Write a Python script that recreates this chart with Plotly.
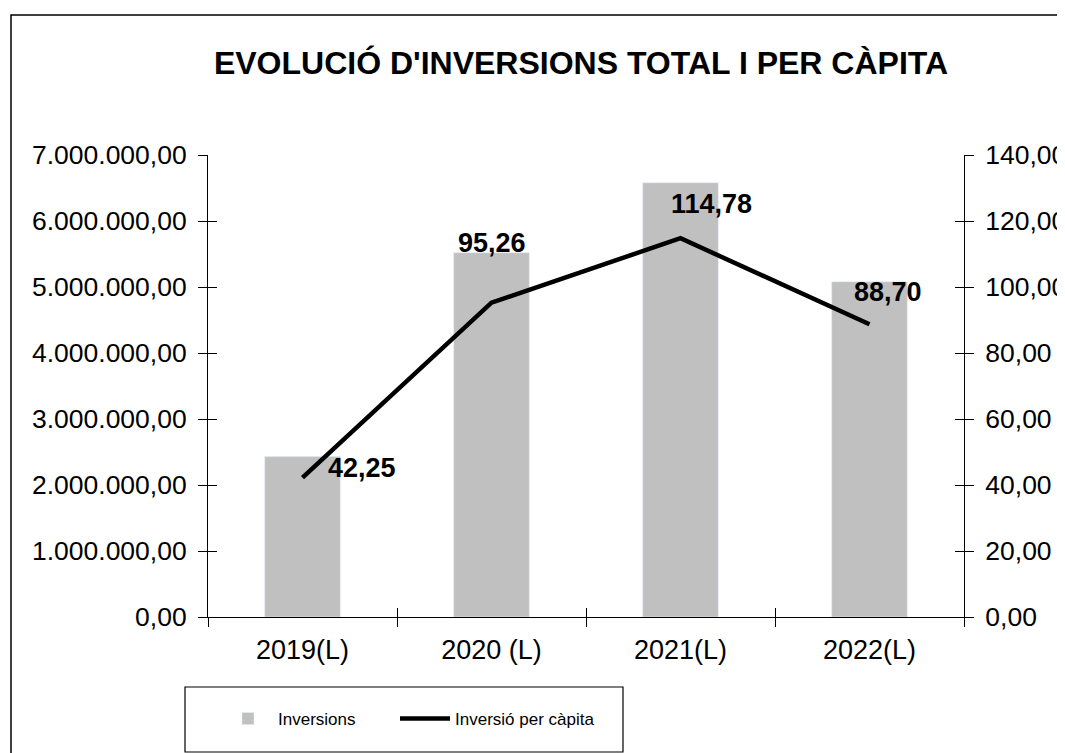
"""Evolució d'inversions total i per càpita."""

import plotly.graph_objects as go

YEARS = ["2019(L)", "2020 (L)", "2021(L)", "2022(L)"]
INVERSIONS = [2430000, 5520000, 6580000, 5080000]
PER_CAPITA = [42.25, 95.26, 114.78, 88.70]

TITLE = "EVOLUCIÓ D'INVERSIONS TOTAL I PER CÀPITA"
FONT = "Liberation Sans, Arial, sans-serif"
BAR_GREY = "#c0c0c0"

# desplaçament de cada etiqueta respecte al punt (px)
LABEL_SHIFTS = [(59, 10), (0, 60), (31, 34), (18, 32)]

# la pàgina té 8 px de marge al body: tot es mesura en px de pantalla
OFF = 8
W, H = 1065, 753
L, T = 208 - OFF, 155 - OFF
R, B = W - (964 - OFF), H - (617 - OFF)
PW, PH = W - L - R, H - T - B


def px_x(x):
    return (x - OFF - L) / PW


def px_y(y):
    return (H - B - (y - OFF)) / PH


fig = go.Figure()
fig.add_trace(
    go.Bar(
        x=YEARS, y=INVERSIONS, name="Inversions",
        marker_color=BAR_GREY, width=0.4, hoverinfo="skip",
    )
)
fig.add_trace(
    go.Scatter(
        x=YEARS, y=PER_CAPITA, name="Inversió per càpita", yaxis="y2",
        mode="lines", line=dict(color="black", width=4.5), hoverinfo="skip",
        legend="legend2",
    )
)
# traces invisibles per tenir les marques interiors dels eixos
fig.add_trace(
    go.Scatter(
        x=YEARS, y=PER_CAPITA, xaxis="x2", yaxis="y3", mode="lines",
        line=dict(width=0), showlegend=False, hoverinfo="skip",
    )
)
fig.add_trace(
    go.Scatter(
        x=YEARS, y=PER_CAPITA, yaxis="y4", mode="lines",
        line=dict(width=0), showlegend=False, hoverinfo="skip",
    )
)

for year, v, (dx, dy) in zip(YEARS, PER_CAPITA, LABEL_SHIFTS):
    fig.add_annotation(
        x=year, y=v, xref="x", yref="y2", text=f"{v:.2f}".replace(".", ","),
        showarrow=False, xshift=dx, yshift=dy,
        font=dict(family=FONT, size=27, color="black", weight="bold"),
    )

ytick_font = dict(family=FONT, size=26.5, color="black")
xtick_font = dict(family=FONT, size=27, color="black")
common = dict(showgrid=False, zeroline=False, linecolor="black", linewidth=1,
              tickcolor="black", ticklen=9, tickwidth=1)
legend_style = dict(
    orientation="h", xanchor="left", y=px_y(719), yanchor="middle",
    font=dict(family=FONT, size=17, color="black"),
    bgcolor="rgba(0,0,0,0)", itemwidth=50,
)

fig.update_layout(
    width=W, height=H,
    margin=dict(l=L, r=R, t=T, b=B, autoexpand=False),
    paper_bgcolor="white", plot_bgcolor="white",
    separators=",.",
    font=dict(family=FONT, color="black"),
    title=dict(
        text=TITLE, x=(581 - OFF) / W, xanchor="center",
        y=1 - (63 - OFF) / H, yanchor="middle",
        font=dict(family=FONT, size=32, color="black", weight="bold"),
    ),
    xaxis=dict(
        **common, type="category", ticks="outside", tickson="boundaries",
        showline=True, tickfont=xtick_font, ticklabelstandoff=9,
        range=[-0.5, 3.5],
    ),
    xaxis2=dict(
        **common, type="category", overlaying="x", anchor="y3", ticks="inside",
        tickson="boundaries", showline=False, showticklabels=False,
        range=[-0.5, 3.5],
    ),
    yaxis=dict(
        **common, range=[0, 7000000], dtick=1000000, tickformat=",.2f",
        ticks="outside", showline=True, tickfont=ytick_font, ticklabelstandoff=6,
    ),
    yaxis2=dict(
        **common, range=[0, 140], dtick=20, tickformat=".2f", overlaying="y",
        side="right", ticks="outside", showline=True, tickfont=ytick_font,
        ticklabelstandoff=6,
    ),
    yaxis3=dict(
        **common, range=[0, 140], dtick=20, overlaying="y", anchor="x",
        side="left", ticks="inside", showline=False, showticklabels=False,
    ),
    yaxis4=dict(
        **common, range=[0, 140], dtick=20, overlaying="y", anchor="x",
        side="right", ticks="inside", showline=False, showticklabels=False,
    ),
    showlegend=True,
    legend=dict(**legend_style, x=px_x(218)),
    legend2=dict(**legend_style, x=px_x(395)),
)

# marc exterior i requadre de la llegenda
fig.add_shape(
    type="rect", xref="paper", yref="paper",
    x0=px_x(11), x1=px_x(1085), y0=px_y(780), y1=px_y(15),
    line=dict(color="black", width=1.5), fillcolor="rgba(0,0,0,0)",
)
fig.add_shape(
    type="rect", xref="paper", yref="paper",
    x0=px_x(185), x1=px_x(623), y0=px_y(752), y1=px_y(687),
    line=dict(color="black", width=1.2), fillcolor="rgba(0,0,0,0)",
)

fig.write_html("out.html")
